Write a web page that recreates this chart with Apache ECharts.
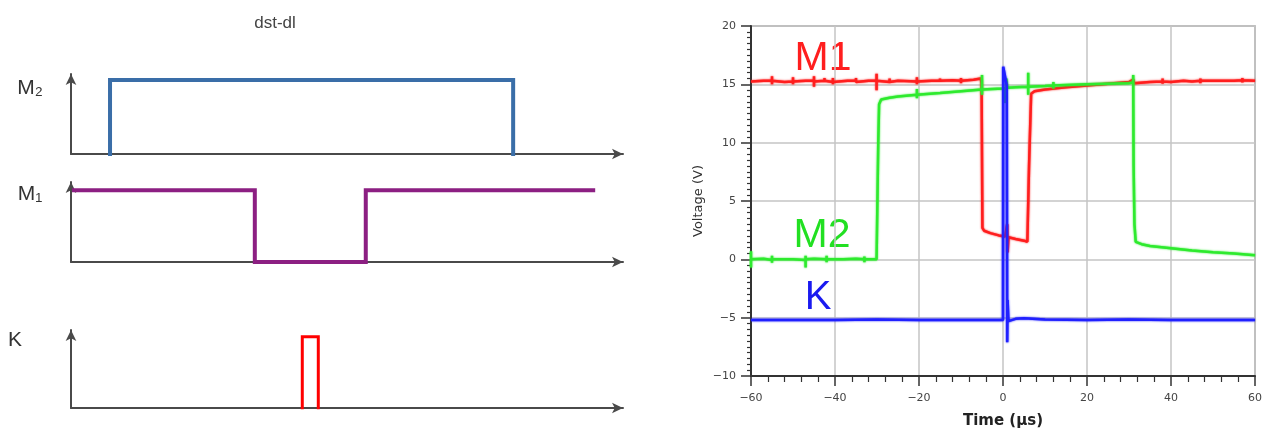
<!DOCTYPE html>
<html><head><meta charset="utf-8">
<script src="https://cdn.jsdelivr.net/npm/echarts@6/dist/echarts.min.js"></script>
<style>html,body{margin:0;padding:0;background:#fff}#c{width:1268px;height:437px}</style>
</head><body><div id="c"></div>
<script>
// ---- schematic (left) : time in 0..100 units, level 0/1 ----
const schematicTitle = 'dst-dl';
const schematicNames = ['M\u2082', 'M\u2081', 'K'];
const m2Schematic = [[7.07, 0], [7.07, 1], [80.1, 1], [80.1, 0]];
const m1Schematic = [[0.54, 1], [33.3, 1], [33.3, 0], [53.4, 0], [53.4, 1], [94.6, 1]];
const kSchematic = [[41.9, 0], [41.9, 1], [44.8, 1], [44.8, 0]];

// ---- oscilloscope traces (right) : [time µs, voltage V] ----
const traceNames = ['M1', 'M2', 'K'];
const m1Trace = [
  [-60, 15.25], [-57, 15.3], [-55, 15.3], [-55, 15.7], [-55, 15.0], [-55, 15.3], [-52, 15.2],
  [-50, 15.25], [-50, 15.6], [-50, 15.0], [-50, 15.25], [-47, 15.3],
  [-45, 15.3], [-45, 15.7], [-45, 14.8], [-45, 15.25], [-42.5, 15.3], [-42.5, 15.55], [-42.5, 15.3],
  [-40.5, 15.2], [-40.5, 15.55], [-40.5, 15.0], [-40.5, 15.2], [-37, 15.3],
  [-35, 15.3], [-35, 15.55], [-35, 15.2], [-32, 15.3],
  [-30.1, 15.3], [-30.1, 15.9], [-30.1, 14.5], [-30.1, 15.3],
  [-27, 15.2], [-27, 15.5], [-27, 15.2], [-25, 15.3],
  [-20.5, 15.25], [-20.5, 15.6], [-20.5, 15.0], [-20.5, 15.25], [-17, 15.3],
  [-15, 15.3], [-15, 15.5], [-15, 15.3], [-12, 15.35],
  [-10, 15.3], [-10, 15.55], [-10, 15.1], [-10, 15.3], [-7, 15.4],
  [-5.3, 15.5], [-5.1, 15.1], [-4.9, 2.7], [-4.5, 2.45], [-3, 2.25], [-1, 2.05], [0.5, 1.95],
  [1, 3.0], [1.1, 0.6], [1.3, 1.9], [3, 1.75], [5, 1.6], [5.8, 1.5], [6.0, 1.6],
  [6.2, 8], [6.4, 10.5], [6.7, 14.2], [7.5, 14.4], [10, 14.55], [15, 14.75], [20, 14.9],
  [25, 15.05], [30, 15.2], [31, 15.4], [31.2, 15.1], [35, 15.2], [38, 15.25], [38, 15.5], [38, 15.05],
  [38, 15.25], [40, 15.2], [43, 15.3], [45, 15.25], [47, 15.3], [47, 15.5], [47, 15.1], [47, 15.3],
  [50, 15.3], [53, 15.3], [55, 15.3], [57, 15.35], [57, 15.55], [57, 15.15], [57, 15.35], [60, 15.3]
];
const m2Trace = [
  [-60, 0], [-60, 0.7], [-60, -0.7], [-60, 0], [-57, 0.05], [-55, -0.05], [-55, 0.3], [-55, -0.3],
  [-55, 0], [-50, 0], [-47, -0.05], [-47, 0.3], [-47, -0.7], [-47, 0], [-45, 0.05],
  [-42, 0], [-42, 0.3], [-42, -0.25], [-42, 0], [-38, 0], [-35, 0.05], [-33, 0], [-33, 0.25],
  [-33, -0.25], [-33, 0], [-30.1, 0], [-29.8, 0.1], [-29.7, 10], [-29.5, 13.3], [-29, 13.7],
  [-27, 13.85], [-25, 13.95], [-20.5, 14.1], [-20.5, 14.6], [-20.5, 13.8], [-20.5, 14.1],
  [-15, 14.25], [-10, 14.4], [-5, 14.55], [-5, 15.8], [-5, 14.1], [-5, 14.55], [0, 14.65],
  [0.5, 14.7], [0.5, 13.4], [0.8, 15.5], [1, 14.7], [3, 14.75], [6, 14.8], [6, 16.0], [6, 14.1],
  [6, 14.8], [10, 14.85], [12, 14.9], [12, 15.2], [12, 14.65], [12, 14.9], [15, 14.95],
  [20, 15.0], [25, 15.05], [30, 15.1], [31, 15.15], [31, 15.8], [31.1, 8], [31.3, 3],
  [31.6, 1.5], [33, 1.3], [35, 1.15], [40, 0.95], [45, 0.75], [50, 0.6], [55, 0.5], [60, 0.35]
];
const kTrace = [
  [-60, -5.2], [-50, -5.2], [-45, -5.2], [-40, -5.2], [-30, -5.15], [-20, -5.2], [-15, -5.2],
  [-5, -5.2], [0, -5.2], [0.05, 16.5], [0.25, 16.5], [0.9, 14.9],
  [1.0, -7.1], [1.1, -3.5], [1.3, -5.3], [3, -5.1], [5, -5.05], [10, -5.15], [20, -5.2],
  [30, -5.15], [40, -5.2], [50, -5.2], [60, -5.2]
];
const timeName = 'Time (\u00b5s)';
const voltageName = 'Voltage (V)';

const axisDark = '#4a4a4a';
const schemPanels = [
  { top: 74, height: 80, max: 1.08 },
  { top: 182, height: 80, max: 1.116 },
  { top: 330, height: 78, max: 1.094 }
];
const grids = schemPanels.map(p => ({ left: 71, top: p.top, width: 552, height: p.height }));
grids.push({ left: 751, top: 26, right: 13, bottom: 61, show: true, borderColor: '#9a9a9a', borderWidth: 1.5 });

const schemAxisLine = { show: true, symbol: ['none', 'arrow'], symbolSize: [8, 11], lineStyle: { color: axisDark, width: 2 } };
const xAxes = schemPanels.map((p, i) => ({
  type: 'value', gridIndex: i, min: 0, max: 100,
  axisLine: schemAxisLine, axisTick: { show: false }, axisLabel: { show: false }, splitLine: { show: false }
}));
const yAxes = schemPanels.map((p, i) => ({
  type: 'value', gridIndex: i, min: 0, max: p.max,
  axisLine: schemAxisLine, axisTick: { show: false }, axisLabel: { show: false }, splitLine: { show: false }
}));
const minus = v => String(v).replace('-', '\u2212');
xAxes.push({
  type: 'value', gridIndex: 3, min: -60, max: 60, interval: 20,
  name: timeName, nameLocation: 'middle', nameGap: 38,
  nameTextStyle: { fontFamily: 'DejaVu Sans', fontSize: 15, fontWeight: 'bold', color: '#222' },
  axisLine: { show: true, onZero: false, lineStyle: { color: '#333', width: 2 } },
  axisTick: { show: true, length: 10, lineStyle: { color: '#333', width: 1.5 } },
  minorTick: { show: true, splitNumber: 5, length: 6, lineStyle: { color: '#333', width: 1.2 } },
  axisLabel: { margin: 17, formatter: minus, fontFamily: 'DejaVu Sans', fontSize: 11, color: '#444' },
  splitLine: { show: true, lineStyle: { color: '#c4c4c4', width: 1.5 } }
});
yAxes.push({
  type: 'value', gridIndex: 3, min: -10, max: 20, interval: 5,
  name: voltageName, nameLocation: 'middle', nameGap: 46, nameRotate: 90,
  nameTextStyle: { fontFamily: 'DejaVu Sans', fontSize: 13, color: '#333' },
  axisLine: { show: true, onZero: false, lineStyle: { color: '#333', width: 2 } },
  axisTick: { show: true, length: 10, lineStyle: { color: '#333', width: 1.5 } },
  minorTick: { show: true, splitNumber: 10, length: 4, lineStyle: { color: '#333', width: 1.2 } },
  axisLabel: { margin: 15, formatter: minus, fontFamily: 'DejaVu Sans', fontSize: 11, color: '#444' },
  splitLine: { show: true, lineStyle: { color: '#c4c4c4', width: 1.5 } }
});

const schemSeries = [
  { data: m2Schematic, color: '#3a6ea8', width: 4 },
  { data: m1Schematic, color: '#8c1f82', width: 4 },
  { data: kSchematic, color: '#ff0000', width: 3 }
].map((s, i) => ({
  type: 'line', xAxisIndex: i, yAxisIndex: i, data: s.data, symbol: 'none',
  lineStyle: { color: s.color, width: s.width, cap: 'square', join: 'miter' }, silent: true
}));
const traceSeries = [
  { name: traceNames[0], data: m1Trace, color: '#ff1e1e' },
  { name: traceNames[1], data: m2Trace, color: '#2eea2e' },
  { name: traceNames[2], data: kTrace, color: '#2020ff' }
].map(s => ({
  type: 'line', name: s.name, xAxisIndex: 3, yAxisIndex: 3, data: s.data, symbol: 'none',
  lineStyle: { color: s.color, width: 2.5, shadowColor: s.color, shadowBlur: 2 }, silent: true
}));

const labelFont = 'Liberation Sans, DejaVu Sans, sans-serif';
const chart = echarts.init(document.getElementById('c'), null, { renderer: 'canvas' });
chart.setOption({
  animation: false,
  backgroundColor: '#fff',
  title: [
    { text: schematicTitle, left: 270, top: 10, textAlign: 'center',
      textStyle: { fontFamily: labelFont, fontSize: 17, fontWeight: 'normal', color: '#444' } }
  ],
  grid: grids,
  xAxis: xAxes,
  yAxis: yAxes,
  series: schemSeries.concat(traceSeries),
  graphic: [
    { type: 'text', x: 30, y: 88, style: { text: schematicNames[0], fill: '#333', fontSize: 21, fontFamily: labelFont, align: 'center', verticalAlign: 'middle' } },
    { type: 'text', x: 30, y: 194, style: { text: schematicNames[1], fill: '#333', fontSize: 21, fontFamily: labelFont, align: 'center', verticalAlign: 'middle' } },
    { type: 'text', x: 15, y: 340, style: { text: schematicNames[2], fill: '#333', fontSize: 21, fontFamily: labelFont, align: 'center', verticalAlign: 'middle' } },
    { type: 'text', x: 823, y: 59, style: { text: traceNames[0], fill: '#ff1e1e', fontSize: 41, fontFamily: labelFont, align: 'center', verticalAlign: 'middle' } },
    { type: 'text', x: 822, y: 236, style: { text: traceNames[1], fill: '#22e022', fontSize: 41, fontFamily: labelFont, align: 'center', verticalAlign: 'middle' } },
    { type: 'text', x: 818, y: 298, style: { text: traceNames[2], fill: '#1a1af0', fontSize: 40, fontFamily: labelFont, align: 'center', verticalAlign: 'middle' } }
  ]
});
</script>
</body></html>
